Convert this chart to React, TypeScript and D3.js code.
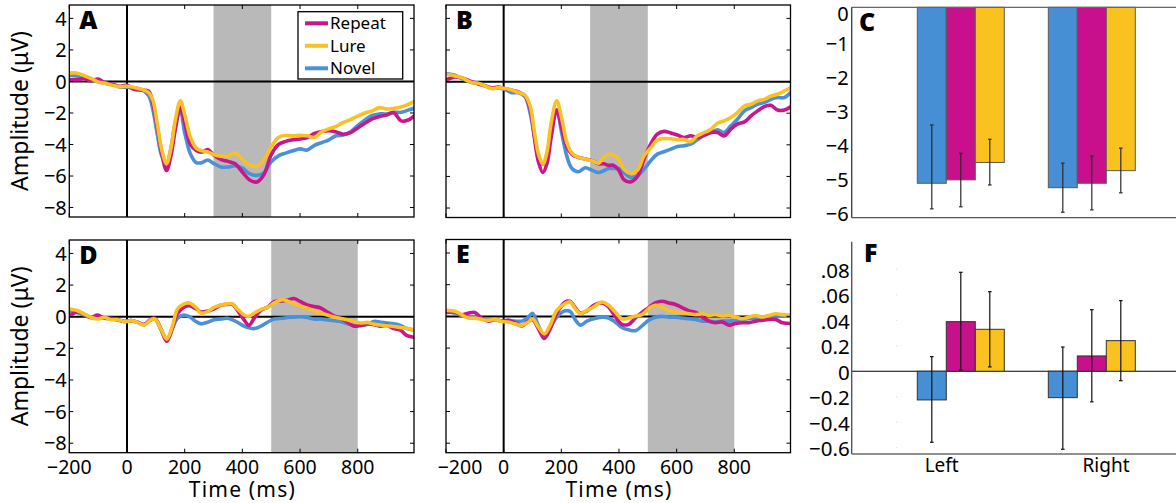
import React from "react";
import * as d3 from "d3";

// ---------- data ----------
const SERIES_NAMES = ["Repeat", "Lure", "Novel"];
const X_TICKS = [-200, 0, 200, 400, 600, 800];
const Y_TICKS = [-8, -6, -4, -2, 0, 2, 4];
const X_TICK_LABELS = ["\u2212200", "0", "200", "400", "600", "800"];
const Y_TICK_LABELS = ["\u22128", "\u22126", "\u22124", "\u22122", "0", "2", "4"];

const TIMES_A = [-200, -175, -150, -125, -100, -75, -50, -25, 0, 25, 50, 75, 90, 105, 120, 137, 152, 168, 185, 200, 220, 240, 260, 280, 300, 325, 350, 375, 400, 425, 450, 475, 500, 525, 550, 575, 600, 625, 650, 675, 700, 725, 750, 775, 800, 825, 850, 875, 900, 925, 950, 975, 995];
const LURE_A = [0.53, 0.53, 0.38, 0.19, -0.03, -0.12, -0.25, -0.33, -0.3, -0.38, -0.5, -0.7, -1.2, -2.7, -4.3, -5.22, -4.27, -2.4, -1.22, -2.1, -3.55, -4.23, -4.4, -4.48, -4.63, -4.74, -4.74, -4.53, -4.95, -5.3, -5.4, -4.95, -4.15, -3.55, -3.43, -3.45, -3.42, -3.45, -3.55, -3.2, -3.0, -2.85, -2.6, -2.42, -2.2, -2.0, -1.87, -1.66, -1.75, -1.71, -1.62, -1.45, -1.28];
const REPEAT_A = [0.12, 0.1, 0.19, 0.04, 0.15, -0.1, -0.18, -0.3, -0.25, -0.5, -0.55, -0.62, -1.4, -2.9, -4.5, -5.65, -4.75, -3.0, -1.64, -2.6, -4.0, -4.38, -4.48, -4.32, -4.65, -4.95, -5.07, -5.22, -5.75, -6.25, -6.38, -5.9, -4.65, -4.0, -3.8, -3.7, -3.65, -3.56, -3.3, -3.18, -3.13, -3.2, -3.35, -3.25, -2.95, -2.65, -2.38, -2.22, -2.13, -1.98, -2.5, -2.45, -2.2];
const NOVEL_A = [0.4, 0.34, 0.2, 0.1, -0.02, -0.11, -0.2, -0.35, -0.36, -0.42, -0.5, -0.9, -1.8, -3.35, -4.7, -5.22, -4.27, -2.6, -1.9, -3.25, -4.6, -5.15, -5.15, -4.98, -5.2, -5.42, -5.43, -5.35, -5.5, -5.85, -5.96, -5.8, -5.1, -4.72, -4.55, -4.4, -4.28, -4.35, -4.05, -3.88, -3.7, -3.45, -3.4, -3.2, -2.8, -2.45, -2.15, -2.06, -2.06, -1.96, -1.96, -1.82, -1.7];

const TIMES_B = [-195, -169, -146, -111, -88, -65, -42, -19, 5, 28, 51, 74, 92, 107, 121, 136, 150, 165, 184, 202, 219, 237, 260, 283, 306, 329, 347, 364, 381, 399, 417, 440, 464, 487, 510, 533, 556, 580, 603, 626, 649, 672, 696, 719, 742, 765, 788, 811, 835, 858, 881, 904, 927, 950, 974, 997];
const LURE_B = [0.46, 0.36, 0.25, -0.06, -0.1, -0.27, -0.44, -0.38, -0.44, -0.53, -0.69, -0.86, -1.54, -3.22, -4.59, -5.22, -4.48, -2.59, -1.22, -2.38, -3.85, -4.53, -4.8, -4.9, -5.01, -5.16, -4.8, -4.59, -4.65, -4.9, -5.54, -5.8, -5.6, -4.7, -4.2, -3.7, -3.6, -3.62, -3.68, -3.66, -3.8, -3.43, -3.22, -3.01, -2.63, -2.48, -2.27, -1.96, -1.54, -1.43, -1.22, -1.12, -0.91, -0.8, -0.59, -0.38];
const REPEAT_B = [0.15, 0.3, 0.25, 0.0, -0.15, -0.27, -0.4, -0.35, -0.45, -0.55, -0.65, -0.9, -1.7, -3.6, -5.1, -5.75, -5.2, -3.5, -1.8, -3.0, -4.1, -4.6, -4.8, -4.9, -5.0, -5.2, -5.2, -5.3, -5.3, -5.6, -6.2, -6.35, -6.0, -4.9, -3.96, -3.33, -3.15, -3.25, -3.38, -3.54, -3.43, -3.54, -3.39, -3.22, -3.22, -3.43, -3.01, -2.69, -2.55, -2.17, -1.85, -1.58, -1.5, -1.8, -1.8, -1.58];
const NOVEL_B = [0.5, 0.4, 0.2, -0.05, -0.12, -0.25, -0.4, -0.4, -0.5, -0.7, -0.7, -0.95, -2.0, -3.5, -4.8, -5.25, -4.7, -3.0, -1.8, -3.3, -4.7, -5.5, -5.7, -5.45, -5.6, -5.75, -5.64, -5.5, -5.5, -5.5, -5.75, -6.06, -5.96, -5.54, -5.01, -4.59, -4.44, -4.27, -4.1, -4.06, -3.96, -3.68, -3.39, -3.22, -3.05, -3.22, -2.8, -2.38, -1.85, -1.64, -1.43, -1.33, -1.12, -1.01, -1.01, -0.65];

const TIMES_D = [-196, -171, -148, -125, -102, -78, -55, -32, -9, 14, 37, 60, 83, 97, 118, 138, 158, 175, 198, 216, 239, 256, 279, 302, 325, 348, 366, 383, 406, 423, 441, 464, 487, 510, 539, 556, 579, 602, 625, 648, 671, 694, 718, 741, 764, 787, 810, 833, 856, 879, 902, 925, 948, 971, 995];
const LURE_D = [0.49, 0.38, 0.17, -0.04, -0.15, -0.04, -0.19, -0.19, -0.32, -0.25, -0.36, -0.53, -0.19, -0.15, -0.79, -1.42, -0.57, 0.49, 0.81, 0.87, 0.59, 0.23, 0.32, 0.59, 0.74, 0.81, 0.81, 0.49, 0.11, 0.02, 0.23, 0.45, 0.59, 0.87, 1.08, 1.0, 0.81, 0.66, 0.53, 0.38, 0.23, 0.11, -0.02, -0.11, -0.19, -0.32, -0.4, -0.36, -0.47, -0.53, -0.57, -0.62, -0.68, -0.74, -0.83];
const REPEAT_D = [0.1, 0.3, 0.15, -0.05, 0.1, -0.1, -0.1, -0.2, -0.3, -0.25, -0.35, -0.5, -0.15, -0.1, -0.8, -1.55, -0.7, 0.2, 0.6, 0.7, 0.5, 0.3, 0.35, 0.5, 0.72, 0.78, 0.78, 0.4, -0.2, -0.55, -0.1, 0.4, 0.6, 0.95, 1.0, 1.05, 1.15, 0.95, 0.75, 0.65, 0.55, 0.3, 0.05, -0.1, -0.35, -0.6, -0.55, -0.45, -0.5, -0.6, -0.55, -0.75, -0.85, -1.2, -1.3];
const NOVEL_D = [0.35, 0.25, 0.1, -0.05, -0.1, -0.05, -0.15, -0.2, -0.3, -0.25, -0.35, -0.5, -0.2, -0.15, -0.8, -1.45, -0.7, -0.1, 0.1, 0.0, -0.3, -0.45, -0.35, -0.2, -0.15, -0.1, -0.2, -0.35, -0.6, -0.7, -0.75, -0.6, -0.35, -0.15, -0.1, -0.05, -0.03, 0.0, -0.05, -0.15, -0.15, -0.2, -0.25, -0.3, -0.45, -0.5, -0.55, -0.5, -0.3, -0.35, -0.4, -0.45, -0.55, -0.75, -0.85];

const TIMES_E = [-195, -169, -146, -123, -100, -77, -53, -30, -7, 16, 39, 63, 86, 100, 121, 141, 161, 184, 213, 231, 248, 266, 289, 312, 341, 364, 387, 410, 434, 457, 480, 503, 526, 550, 573, 596, 619, 643, 666, 689, 712, 735, 758, 781, 805, 828, 851, 874, 897, 920, 944, 967, 996];
const LURE_E = [0.38, 0.32, 0.11, -0.11, -0.11, -0.19, -0.25, -0.19, -0.32, -0.36, -0.47, -0.57, -0.36, -0.15, -0.68, -1.1, -0.57, 0.38, 0.81, 0.91, 0.49, 0.17, 0.38, 0.59, 0.91, 0.7, 0.28, -0.15, -0.11, 0.02, 0.11, 0.49, 0.7, 0.59, 0.38, 0.28, 0.23, 0.17, 0.11, 0.17, 0.06, 0.11, 0.02, 0.06, -0.04, -0.15, -0.04, 0.06, -0.04, 0.06, 0.17, 0.11, 0.06];
const REPEAT_E = [0.25, 0.28, 0.1, 0.2, 0.25, -0.1, -0.3, -0.2, -0.3, -0.25, -0.4, -0.6, -0.3, -0.2, -0.8, -1.4, -0.8, 0.2, 0.9, 0.95, 0.55, 0.2, 0.35, 0.7, 0.85, 0.6, 0.0, -0.5, -0.5, -0.1, 0.25, 0.55, 0.85, 0.95, 0.85, 0.75, 0.55, 0.35, 0.25, -0.05, -0.3, -0.4, -0.35, -0.55, -0.45, -0.4, -0.4, -0.3, -0.25, -0.2, -0.2, -0.4, -0.45];
const NOVEL_E = [0.3, 0.2, 0.05, -0.05, -0.05, -0.15, -0.2, -0.2, -0.3, -0.25, -0.3, -0.3, -0.05, 0.2, -0.6, -1.2, -0.7, -0.05, 0.35, 0.3, -0.2, -0.55, -0.3, -0.15, -0.05, -0.1, -0.35, -0.7, -0.85, -0.9, -0.6, -0.25, -0.05, 0.0, -0.05, -0.05, -0.1, -0.15, -0.2, -0.3, -0.3, -0.35, -0.3, -0.3, -0.25, -0.2, -0.15, -0.1, -0.05, 0.0, 0.05, 0.05, 0.05];

const BAR_CATEGORIES = ["Left", "Right"];
const BAR_ORDER = ["Novel", "Repeat", "Lure"];

const C_NOVEL = [-5.16, -5.29];
const C_REPEAT = [-5.06, -5.16];
const C_LURE = [-4.55, -4.79];
const C_NOVEL_ERR = [[-3.45, -5.91], [-4.57, -6.01]];
const C_REPEAT_ERR = [[-4.28, -5.85], [-4.36, -5.94]];
const C_LURE_ERR = [[-3.87, -5.21], [-4.13, -5.44]];
const C_TICKS = [0, -1, -2, -3, -4, -5, -6];
const C_TICK_LABELS = ["0", "\u22121", "\u22122", "\u22123", "\u22124", "\u22125", "\u22126"];

const F_NOVEL = [-0.0225, -0.0207];
const F_REPEAT = [0.0389, 0.012];
const F_LURE = [0.0329, 0.024];
const F_NOVEL_ERR = [[0.0115, -0.0557], [0.019, -0.0612]];
const F_REPEAT_ERR = [[0.0776, 0.001], [0.0483, -0.024]];
const F_LURE_ERR = [[0.0624, 0.0034], [0.0554, -0.0074]];
const F_TICKS = [0.08, 0.06, 0.04, 0.02, 0, -0.02, -0.04, -0.06];
const F_TICK_LABELS = [".08", ".06", ".04", "0.2", "0", "\u22120.2", "\u22120.4", "\u22120.6"];

// ---------- style ----------
const COLORS: Record<string, string> = { Repeat: "#c8168c", Lure: "#fbc021", Novel: "#4a91d8" };
const BAR_COLORS: Record<string, string> = { Repeat: "#c8108c", Lure: "#f9c21e", Novel: "#468fd4" };
const FONT = "'Noto Sans', 'DejaVu Sans', sans-serif";
const SHADE = "#b9b9b9";
const X_DOMAIN = [-200, 995];
const Y_DOMAIN = [-8.6, 4.85];

type ErpProps = {
  id: string;
  left: number; right: number; top: number; bottom: number;
  times: number[]; repeat: number[]; lure: number[]; novel: number[];
  shade: [number, number]; letter: string;
  yLabels?: boolean; xLabels?: boolean; legend?: boolean; firstLabelDx?: number;
};

function ErpPanel(p: ErpProps) {
  const x = d3.scaleLinear().domain(X_DOMAIN).range([p.left, p.right]);
  const y = d3.scaleLinear().domain(Y_DOMAIN).range([p.bottom, p.top]);
  const line = d3
    .line<number>()
    .x((_, i) => x(p.times[i]))
    .y((d) => y(d))
    .curve(d3.curveCatmullRom.alpha(0.5));
  const draw = [
    { name: "Novel", v: p.novel },
    { name: "Repeat", v: p.repeat },
    { name: "Lure", v: p.lure },
  ];
  const tl = 4;
  return (
    <g>
      <defs>
        <clipPath id={p.id}>
          <rect x={p.left} y={p.top} width={p.right - p.left} height={p.bottom - p.top} />
        </clipPath>
      </defs>
      <rect x={x(p.shade[0])} y={p.top} width={x(p.shade[1]) - x(p.shade[0])} height={p.bottom - p.top} fill={SHADE} />
      <line x1={p.left} x2={p.right} y1={y(0)} y2={y(0)} stroke="#000" strokeWidth={2} />
      <line x1={x(0)} x2={x(0)} y1={p.top} y2={p.bottom} stroke="#000" strokeWidth={2} />
      <g clipPath={`url(#${p.id})`}>
        {draw.map((s) => (
          <path key={s.name} d={line(s.v) || ""} fill="none" stroke={COLORS[s.name]} strokeWidth={3.6} strokeLinejoin="round" strokeLinecap="round" />
        ))}
      </g>
      {Y_TICKS.map((t) => (
        <g key={"yt" + t}>
          <line x1={p.left} x2={p.left + tl} y1={y(t)} y2={y(t)} stroke="#000" strokeWidth={1} />
          <line x1={p.right} x2={p.right - tl} y1={y(t)} y2={y(t)} stroke="#000" strokeWidth={1} />
        </g>
      ))}
      {X_TICKS.map((t) => (
        <g key={"xt" + t}>
          <line x1={x(t)} x2={x(t)} y1={p.bottom} y2={p.bottom - tl} stroke="#000" strokeWidth={1} />
          <line x1={x(t)} x2={x(t)} y1={p.top} y2={p.top + tl} stroke="#000" strokeWidth={1} />
        </g>
      ))}
      <rect x={p.left} y={p.top} width={p.right - p.left} height={p.bottom - p.top} fill="none" stroke="#000" strokeWidth={1.3} />
      {p.yLabels &&
        Y_TICKS.map((t, i) => (
          <text key={"yl" + t} x={p.left - 2.5} y={y(t)} dy="0.36em" textAnchor="end" fontFamily={FONT} fontSize={20} fill="#000">
            {Y_TICK_LABELS[i]}
          </text>
        ))}
      {p.xLabels &&
        X_TICKS.map((t, i) => (
          <text key={"xl" + t} x={x(t) + (i === 0 ? p.firstLabelDx || 0 : 0)} y={p.bottom + 21} textAnchor="middle" fontFamily={FONT} fontSize={19.5} fill="#000">
            {X_TICK_LABELS[i]}
          </text>
        ))}
      {p.xLabels && (
        <text x={x(400)} y={p.bottom + 44.5} textAnchor="middle" fontFamily={FONT} fontSize={21} letterSpacing={1.2} fill="#000">
          Time (ms)
        </text>
      )}
      {p.yLabels && (
        <text transform={`translate(27.5,${(p.top + p.bottom) / 2}) rotate(-90)`} textAnchor="middle" fontFamily={FONT} fontSize={23} fill="#000">
          Amplitude (μV)
        </text>
      )}
      <text x={p.left + 10} y={p.top + 23.5} fontFamily={FONT} fontWeight={900} fontSize={25} fill="#000">
        {p.letter}
      </text>
      {p.legend && (
        <g>
          <rect x={298} y={11.7} width={104.7} height={67.3} fill="#fff" stroke="#000" strokeWidth={1.3} />
          {SERIES_NAMES.map((n, i) => {
            const cy = 23.3 + i * 22.5;
            return (
              <g key={n}>
                <line x1={305} x2={328} y1={cy} y2={cy} stroke={COLORS[n]} strokeWidth={4} />
                <text x={330} y={cy + 6} fontFamily={FONT} fontSize={17} fill="#000">
                  {n}
                </text>
              </g>
            );
          })}
        </g>
      )}
    </g>
  );
}

type BarProps = {
  y: d3.ScaleLinear<number, number>;
  means: Record<string, number[]>;
  errs: Record<string, number[][]>;
  outline: string; errColor: string;
};

const x0 = d3.scaleBand<string>().domain(BAR_CATEGORIES).range([917.3, 1135.3]).paddingInner(0.336).paddingOuter(0);
const x1 = d3.scaleBand<string>().domain(BAR_ORDER).range([0, x0.bandwidth()]).padding(0);

function Bars(p: BarProps) {
  return (
    <g>
      {BAR_CATEGORIES.map((c, ci) =>
        BAR_ORDER.map((s) => {
          const v = p.means[s][ci];
          const bx = (x0(c) || 0) + (x1(s) || 0);
          const y0 = p.y(0);
          const yv = p.y(v);
          return (
            <rect key={c + s} x={bx} y={Math.min(y0, yv)} width={x1.bandwidth()} height={Math.abs(yv - y0)} fill={BAR_COLORS[s]} stroke={p.outline} strokeWidth={1} />
          );
        })
      )}
      {BAR_CATEGORIES.map((c, ci) =>
        BAR_ORDER.map((s) => {
          const [hi, lo] = p.errs[s][ci];
          const cx = (x0(c) || 0) + (x1(s) || 0) + x1.bandwidth() / 2;
          return (
            <g key={"e" + c + s} stroke={p.errColor} strokeWidth={1.2}>
              <line x1={cx} x2={cx} y1={p.y(hi)} y2={p.y(lo)} />
              <line x1={cx - 1.8} x2={cx + 1.8} y1={p.y(hi)} y2={p.y(hi)} />
              <line x1={cx - 1.8} x2={cx + 1.8} y1={p.y(lo)} y2={p.y(lo)} />
            </g>
          );
        })
      )}
    </g>
  );
}

const AX_LEFT = 851.7;
const AX_RIGHT = 1176;

function PanelC() {
  const top = 7.3, bottom = 217.7;
  const y = d3.scaleLinear().domain([-6.17, 0]).range([bottom, top]);
  return (
    <g>
      <Bars y={y} means={{ Novel: C_NOVEL, Repeat: C_REPEAT, Lure: C_LURE }} errs={{ Novel: C_NOVEL_ERR, Repeat: C_REPEAT_ERR, Lure: C_LURE_ERR }} outline="#5a5a5a" errColor="#2a2a2a" />
      <line x1={AX_LEFT} x2={AX_RIGHT} y1={top} y2={top} stroke="#666" strokeWidth={1.2} />
      <line x1={AX_LEFT} x2={AX_RIGHT} y1={bottom} y2={bottom} stroke="#555" strokeWidth={1.2} />
      <line x1={AX_LEFT} x2={AX_LEFT} y1={top} y2={bottom} stroke="#444" strokeWidth={1.4} />
      {C_TICKS.map((t, i) => (
        <text key={t} x={AX_LEFT - 3} y={Math.max(y(t) + 2, 14)} dy="0.36em" textAnchor="end" fontFamily={FONT} fontSize={20} fill="#000">
          {C_TICK_LABELS[i]}
        </text>
      ))}
      <text x={859} y={31} fontFamily={FONT} fontWeight={900} fontSize={25} fill="#000">
        C
      </text>
    </g>
  );
}

function PanelF() {
  const top = 241.7, bottom = 454;
  const y = d3.scaleLinear().domain([-0.0649, 0.1016]).range([bottom, top]);
  const labelX = d3.scalePoint<string>().domain(BAR_CATEGORIES).range([941.7, 1106]);
  return (
    <g>
      {F_TICKS.filter((t) => t !== 0).map((t) => (
        <rect key={"d" + t} x={896.2} y={y(t) - 0.5} width={1} height={1} fill="#d0d0d0" />
      ))}
      <line x1={AX_LEFT} x2={AX_RIGHT} y1={y(0)} y2={y(0)} stroke="#000" strokeWidth={1} />
      <Bars y={y} means={{ Novel: F_NOVEL, Repeat: F_REPEAT, Lure: F_LURE }} errs={{ Novel: F_NOVEL_ERR, Repeat: F_REPEAT_ERR, Lure: F_LURE_ERR }} outline="#333" errColor="#111" />
      <line x1={AX_LEFT} x2={AX_RIGHT} y1={bottom} y2={bottom} stroke="#222" strokeWidth={1.2} />
      <line x1={AX_LEFT} x2={AX_LEFT} y1={top} y2={bottom} stroke="#555" strokeWidth={1.4} />
      {F_TICKS.map((t, i) => (
        <text key={t} x={AX_LEFT - 2} y={y(t) + 1} dy="0.36em" textAnchor="end" fontFamily={FONT} fontSize={20.5} fill="#000">
          {F_TICK_LABELS[i]}
        </text>
      ))}
      {BAR_CATEGORIES.map((c) => (
        <text key={c} x={labelX(c)} y={471.5} textAnchor="middle" fontFamily={FONT} fontSize={19} fill="#000">
          {c}
        </text>
      ))}
      <text x={864} y={262} fontFamily={FONT} fontWeight={900} fontSize={25} fill="#000">
        F
      </text>
    </g>
  );
}

export default function App() {
  return (
    <svg width={1176} height={503} style={{ position: "absolute", left: 0, top: 0, background: "#fff" }}>
      <rect x={0} y={0} width={1176} height={503} fill="#fff" />
      <ErpPanel id="clipA" left={69.3} right={414} top={5} bottom={217} times={TIMES_A} repeat={REPEAT_A} lure={LURE_A} novel={NOVEL_A} shade={[300, 500]} letter="A" yLabels legend />
      <ErpPanel id="clipB" left={446} right={790.5} top={5} bottom={217.5} times={TIMES_B} repeat={REPEAT_B} lure={LURE_B} novel={NOVEL_B} shade={[300, 500]} letter="B" />
      <ErpPanel id="clipD" left={69.3} right={414} top={240} bottom={452.7} times={TIMES_D} repeat={REPEAT_D} lure={LURE_D} novel={NOVEL_D} shade={[500, 800]} letter="D" yLabels xLabels />
      <ErpPanel id="clipE" left={446} right={790.5} top={239.5} bottom={452.7} times={TIMES_E} repeat={REPEAT_E} lure={LURE_E} novel={NOVEL_E} shade={[500, 800]} letter="E" xLabels firstLabelDx={14} />
      <PanelC />
      <PanelF />
    </svg>
  );
}
